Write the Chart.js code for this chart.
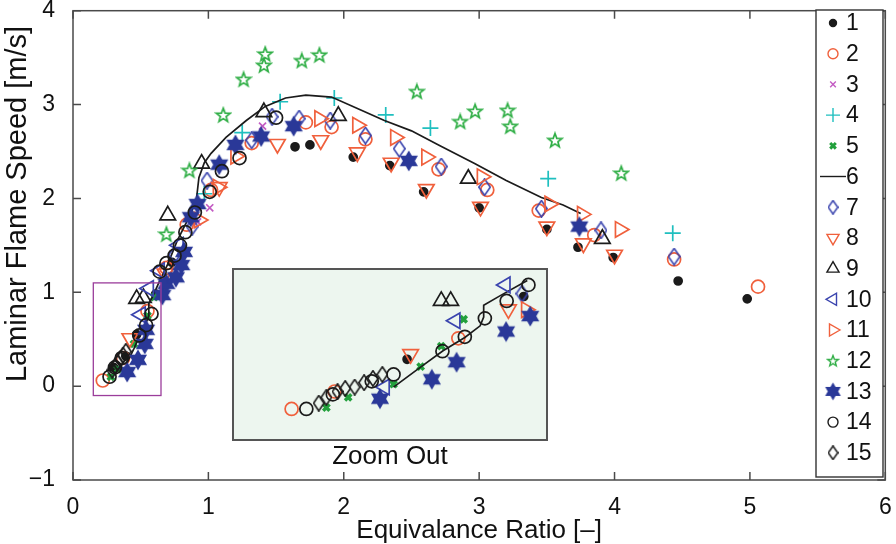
<!DOCTYPE html>
<html>
<head>
<meta charset="utf-8">
<script src="https://cdn.jsdelivr.net/npm/chart.js@4.4.1/dist/chart.umd.min.js"></script>
<style>
  html, body { margin: 0; padding: 0; background: #fff; }
  #wrap { position: relative; width: 896px; height: 544px; }
  #main { position: absolute; left: 0; top: 0; }
  #zoom { position: absolute; left: 232px; top: 268px; }
</style>
</head>
<body>
<div id="wrap">
  <canvas id="main" width="896" height="544"></canvas>
  <canvas id="zoom" width="316" height="173"></canvas>
</div>
<script>
// laminar flame speed vs equivalence ratio, one list of [phi, S_L] per source
const s1 = [[0.30,0.20],[0.39,0.32],[0.47,0.55],[0.61,0.98],[0.73,1.32],[1.64,2.55],[1.75,2.57],[2.07,2.44],[2.34,2.35],[2.59,2.07],[3.00,1.90],[3.50,1.67],[3.73,1.48],[3.99,1.37],[4.47,1.12],[4.98,0.93]];
const s2 = [[0.22,0.06],[0.37,0.30],[0.55,0.80],[0.69,1.26],[0.84,1.72],[1.02,2.09],[1.32,2.59],[1.72,2.81],[1.91,2.76],[2.16,2.63],[2.70,2.31],[3.06,2.09],[3.44,1.87],[3.85,1.61],[4.44,1.35],[5.06,1.06]];
const s3 = [[0.55,0.74],[0.92,1.75],[1.01,1.90],[1.40,2.77]];
const s4 = [[0.97,2.05],[1.25,2.70],[1.53,3.03],[1.93,3.07],[2.31,2.89],[2.64,2.75],[3.51,2.21],[4.43,1.63]];
const s5 = [[0.28,0.10],[0.33,0.18],[0.45,0.45],[0.55,0.75],[0.60,0.95]];
const s6 = [[0.40,0.25],[0.45,0.40],[0.49,0.53],[0.53,0.64],[0.56,0.75],[0.56,0.88],[0.59,0.96],[0.63,1.09],[0.70,1.30],[0.77,1.55],[0.85,1.78],[0.91,1.97],[0.93,2.22],[0.97,2.38],[1.02,2.48],[1.13,2.65],[1.28,2.83],[1.42,2.98],[1.57,3.07],[1.72,3.10],[1.91,3.08],[2.13,2.94],[2.30,2.83],[2.50,2.72],[2.70,2.57],[2.97,2.37],[3.20,2.19],[3.46,2.01],[3.62,1.93],[3.75,1.84]];
const s7 = [[0.75,1.40],[0.88,1.70],[0.99,2.19],[1.32,2.62],[1.47,2.87],[1.67,2.85],[1.90,2.83],[2.16,2.67],[2.41,2.53],[2.72,2.34],[3.04,2.12],[3.46,1.89],[3.90,1.66],[4.44,1.38]];
const s8 = [[0.42,0.51],[0.68,1.20],[1.08,2.12],[1.51,2.58],[1.83,2.62],[2.10,2.49],[2.35,2.38],[2.61,2.10],[3.01,1.91],[3.50,1.70],[3.77,1.52],[4.00,1.40]];
const s9 = [[0.47,0.93],[0.52,0.94],[0.70,1.82],[0.95,2.37],[1.41,2.92],[1.96,2.88],[2.92,2.21],[3.91,1.57]];
const s10 = [[0.50,0.76],[0.56,1.04],[0.64,1.23],[0.78,1.50]];
const s11 = [[0.93,1.77],[1.07,2.12],[1.20,2.45],[1.82,2.85],[2.10,2.78],[2.38,2.65],[2.61,2.44],[3.02,2.23],[3.52,1.94],[3.76,1.83],[4.04,1.67]];
const s12 = [[0.69,1.62],[0.86,2.30],[1.11,2.89],[1.26,3.27],[1.41,3.42],[1.42,3.54],[1.69,3.47],[1.82,3.53],[2.54,3.14],[2.86,2.82],[2.97,2.93],[3.21,2.94],[3.23,2.77],[3.56,2.62],[4.05,2.27]];
const s13 = [[0.40,0.15],[0.48,0.28],[0.53,0.45],[0.54,0.60],[0.66,0.97],[0.69,1.09],[0.76,1.16],[0.80,1.29],[0.82,1.43],[0.87,1.80],[0.92,1.94],[1.08,2.36],[1.20,2.57],[1.39,2.66],[1.63,2.77],[2.48,2.40],[3.74,1.70]];
const s14 = [[0.27,0.10],[0.31,0.20],[0.36,0.30],[0.49,0.54],[0.54,0.65],[0.58,0.77],[0.64,1.22],[0.69,1.31],[0.75,1.39],[0.79,1.50],[0.83,1.64],[0.90,1.85],[1.01,2.07],[1.10,2.29],[1.23,2.43],[1.50,2.86]];
const s15 = [[0.29,0.17],[0.31,0.21],[0.33,0.25],[0.35,0.29],[0.37,0.33],[0.39,0.37]];

// lean end, shown enlarged in the inset
const z1 = [[0.429,0.462],[0.627,0.959]];
const z2 = [[0.233,0.069],[0.306,0.207],[0.516,0.628]];
const z5 = [[0.292,0.080],[0.329,0.161],[0.406,0.265],[0.452,0.404],[0.487,0.566],[0.525,0.779]];
const z6 = [[0.406,0.242],[0.453,0.404],[0.490,0.530],[0.527,0.635],[0.553,0.727],[0.559,0.797],[0.559,0.890],[0.585,0.960],[0.633,1.086]];
const z7 = [[0.624,0.982]];
const z8 = [[0.435,0.503],[0.601,0.857]];
const z9 = [[0.487,0.924],[0.503,0.924]];
const z10 = [[0.391,0.242],[0.511,0.767],[0.596,1.051]];
const z11 = [[0.631,0.855]];
const z13 = [[0.383,0.150],[0.471,0.304],[0.513,0.439],[0.597,0.682],[0.638,0.804]];
const z14 = [[0.258,0.069],[0.303,0.184],[0.369,0.288],[0.406,0.342],[0.489,0.526],[0.527,0.640],[0.561,0.786],[0.598,0.924],[0.635,1.051]];
const z15 = [[0.279,0.115],[0.292,0.161],[0.311,0.207],[0.324,0.231],[0.340,0.242],[0.356,0.277],[0.371,0.311],[0.387,0.342]];

const seriesNames = ['1','2','3','4','5','6','7','8','9','10','11','12','13','14','15'];
const xTicks = [0, 1, 2, 3, 4, 5, 6];
const yTicks = [-1, 0, 1, 2, 3, 4];
const zoomBox = { x0: 0.15, x1: 0.65, y0: -0.1, y1: 1.1 };
const yTitle = 'Laminar Flame Speed [m/s]';

const FONT = "'Liberation Sans', Arial, sans-serif";
const ink = '#1b1b1b', red = '#f0603c', blue = '#3a44ae', navy = '#2a3898', green = '#2fae45';

function starCanvas(d, color, lw) {
  const c = document.createElement('canvas');
  c.width = c.height = d;
  const g = c.getContext('2d');
  const R = d / 2 - lw, r = R * 0.42, cx = d / 2, cy = d / 2 + R * 0.08;
  g.beginPath();
  for (let k = 0; k < 10; k++) {
    const a = -Math.PI / 2 + k * Math.PI / 5, rr = k % 2 ? r : R;
    g.lineTo(cx + rr * Math.cos(a), cy + rr * Math.sin(a));
  }
  g.closePath();
  g.strokeStyle = color; g.lineWidth = lw; g.stroke();
  return c;
}

function hexCanvas(d, color) {
  const c = document.createElement('canvas');
  c.width = c.height = d;
  const g = c.getContext('2d');
  const R = d / 2 - 0.5, r = R / Math.sqrt(3);
  g.beginPath();
  for (let k = 0; k < 12; k++) {
    const a = -Math.PI / 2 + k * Math.PI / 6, rr = k % 2 ? r : R;
    g.lineTo(d / 2 + rr * Math.cos(a), d / 2 + rr * Math.sin(a));
  }
  g.closePath();
  g.fillStyle = color; g.fill();
  return c;
}

function diamondCanvas(w, h, color, lw) {
  const c = document.createElement('canvas');
  c.width = w; c.height = h;
  const g = c.getContext('2d');
  g.beginPath();
  g.moveTo(w / 2, lw / 2); g.lineTo(w - lw / 2, h / 2);
  g.lineTo(w / 2, h - lw / 2); g.lineTo(lw / 2, h / 2);
  g.closePath();
  g.strokeStyle = color; g.lineWidth = lw; g.stroke();
  return c;
}

// marker per series: plot size and legend size
const marks = [
  { style: 'circle', r: 4, lr: 3.5, color: ink, fill: true },
  { style: 'circle', r: 6.5, lr: 5, color: red },
  { style: 'crossRot', r: 5, lr: 4, color: '#c35bc3' },
  { style: 'cross', r: 8, lr: 7, color: '#1fbfbf' },
  { style: 'crossRot', r: 4.5, lr: 4, color: '#22a03c', bw: 3.5 },
  { line: true, color: ink },
  { style: diamondCanvas(13, 18, blue, 1.6), legend: diamondCanvas(11, 15, blue, 1.5), color: blue },
  { style: 'triangle', rot: 180, r: 9, lr: 7, color: red },
  { style: 'triangle', r: 9, lr: 7, color: ink },
  { style: 'triangle', rot: -90, r: 9, lr: 7, color: blue },
  { style: 'triangle', rot: 90, r: 9, lr: 7, color: red },
  { style: starCanvas(18, green, 1.7), legend: starCanvas(14, green, 1.4), color: green },
  { style: hexCanvas(22, navy), legend: hexCanvas(19, navy), color: navy },
  { style: 'circle', r: 6.5, lr: 5, color: ink },
  { style: diamondCanvas(12, 17, ink, 1.6), legend: diamondCanvas(11, 15, ink, 1.5), color: ink }
];

const toPts = pairs => pairs.map(([x, y]) => ({ x, y }));

function makeSet(i, pairs) {
  const m = marks[i];
  const base = { label: seriesNames[i], data: toPts(pairs), order: 15 - i, clip: false };
  if (m.line) {
    return { ...base, showLine: true, borderColor: m.color, borderWidth: 1.7, pointRadius: 0, tension: 0 };
  }
  return {
    ...base,
    showLine: false,
    pointStyle: m.style,
    pointRotation: m.rot || 0,
    pointRadius: m.r || 5,
    pointBorderWidth: m.bw || 1.7,
    pointBorderColor: m.color,
    pointBackgroundColor: m.fill ? m.color : 'rgba(0,0,0,0)',
    pointHoverRadius: m.r || 5
  };
}

const mainSeries = [s1, s2, s3, s4, s5, s6, s7, s8, s9, s10, s11, s12, s13, s14, s15];
const zoomSeries = { 0: z1, 1: z2, 4: z5, 5: z6, 6: z7, 7: z8, 8: z9, 9: z10, 10: z11, 12: z13, 13: z14, 14: z15 };

// box with inward ticks, purple zoom frame, legend, y label and inset caption
const framePlugin = {
  id: 'frame',
  afterDraw(chart) {
    const { ctx, chartArea: a, scales: { x, y } } = chart;
    ctx.save();
    ctx.strokeStyle = '#4a4a4a';
    ctx.lineWidth = 1.5;
    ctx.strokeRect(a.left, a.top, a.right - a.left, a.bottom - a.top);
    ctx.beginPath();
    xTicks.forEach(v => {
      const px = x.getPixelForValue(v);
      ctx.moveTo(px, a.bottom); ctx.lineTo(px, a.bottom - 8);
      ctx.moveTo(px, a.top); ctx.lineTo(px, a.top + 8);
    });
    yTicks.forEach(v => {
      const py = y.getPixelForValue(v);
      ctx.moveTo(a.left, py); ctx.lineTo(a.left + 8, py);
      ctx.moveTo(a.right, py); ctx.lineTo(a.right - 8, py);
    });
    ctx.stroke();

    // region shown in the inset
    ctx.strokeStyle = '#9b3d9b';
    ctx.lineWidth = 1.3;
    const bx0 = x.getPixelForValue(zoomBox.x0), bx1 = x.getPixelForValue(zoomBox.x1);
    const by0 = y.getPixelForValue(zoomBox.y0), by1 = y.getPixelForValue(zoomBox.y1);
    ctx.strokeRect(bx0, by1, bx1 - bx0, by0 - by1);

    ctx.fillStyle = '#111';
    ctx.textAlign = 'center';
    ctx.textBaseline = 'middle';

    // y axis label, sitting a little above the middle of the axis
    ctx.save();
    ctx.translate(18, 204);
    ctx.rotate(-Math.PI / 2);
    ctx.font = '29px ' + FONT;
    ctx.fillText(yTitle, 0, 0);
    ctx.restore();

    // caption under the inset
    ctx.font = '26px ' + FONT;
    ctx.fillText('Zoom Out', 390, 457);

    // legend
    const lx = 816, ly = 10, lw = 67, lh = 467;
    ctx.fillStyle = '#fff';
    ctx.fillRect(lx, ly, lw, lh);
    ctx.strokeStyle = '#333';
    ctx.lineWidth = 1.4;
    ctx.strokeRect(lx, ly, lw, lh);
    ctx.font = '23px ' + FONT;
    ctx.textAlign = 'left';
    seriesNames.forEach((name, i) => {
      const cy = 23 + i * 30.7, cx = 833;
      const m = marks[i];
      ctx.strokeStyle = m.color;
      ctx.fillStyle = m.fill ? m.color : 'rgba(0,0,0,0)';
      ctx.lineWidth = m.bw ? 3 : 1.4;
      if (m.line) {
        ctx.beginPath(); ctx.moveTo(820, cy); ctx.lineTo(846, cy); ctx.stroke();
      } else {
        Chart.helpers.drawPoint(ctx, {
          pointStyle: m.legend || m.style, rotation: m.rot || 0,
          radius: m.lr || 5, borderWidth: ctx.lineWidth
        }, cx, cy);
      }
      ctx.fillStyle = '#111';
      ctx.fillText(name, 846, cy + 1);
    });
    ctx.restore();
  }
};

new Chart(document.getElementById('main'), {
  type: 'scatter',
  data: { datasets: mainSeries.map((d, i) => makeSet(i, d)) },
  options: {
    responsive: false,
    animation: false,
    layout: { padding: { top: 10, right: 8, left: 0, bottom: 0 } },
    plugins: { legend: { display: false }, tooltip: { enabled: false } },
    scales: {
      x: {
        type: 'linear', min: 0, max: 6,
        grid: { display: false }, border: { display: false },
        afterBuildTicks: s => { s.ticks = xTicks.map(v => ({ value: v })); },
        afterFit: s => { s.height = 64; s.paddingLeft = 0; s.paddingRight = 0; },
        ticks: { color: '#111', padding: 6, font: { family: FONT, size: 23 } },
        title: { display: true, text: 'Equivalance Ratio [–]', color: '#111', padding: { top: 0, bottom: -2 }, font: { family: FONT, size: 26 } }
      },
      y: {
        type: 'linear', min: -1, max: 4,
        grid: { display: false }, border: { display: false },
        afterBuildTicks: s => { s.ticks = yTicks.map(v => ({ value: v })); },
        afterFit: s => { s.width = 73; s.paddingTop = 0; s.paddingBottom = 0; },
        ticks: { color: '#111', padding: 10, font: { family: FONT, size: 23 },
          callback: v => v < 0 ? '\u2212' + Math.abs(v) : String(v) }
      }
    }
  },
  plugins: [framePlugin]
});

// inset panel: pale green fill and grey border
const insetPlugin = {
  id: 'insetFrame',
  beforeDraw(chart) {
    const { ctx, width, height } = chart;
    ctx.save();
    ctx.fillStyle = '#edf6ef';
    ctx.fillRect(0, 0, width, height);
    ctx.restore();
  },
  afterDraw(chart) {
    const { ctx, width, height } = chart;
    ctx.save();
    ctx.strokeStyle = '#555';
    ctx.lineWidth = 2;
    ctx.strokeRect(1, 1, width - 2, height - 2);
    ctx.restore();
  }
};

new Chart(document.getElementById('zoom'), {
  type: 'scatter',
  data: { datasets: Object.keys(zoomSeries).map(k => makeSet(+k, zoomSeries[k])) },
  options: {
    responsive: false,
    animation: false,
    layout: { padding: 0 },
    plugins: { legend: { display: false }, tooltip: { enabled: false } },
    scales: {
      x: { type: 'linear', display: false, min: zoomBox.x0, max: zoomBox.x1 },
      y: { type: 'linear', display: false, min: zoomBox.y0, max: zoomBox.y1 }
    }
  },
  plugins: [insetPlugin]
});
</script>
</body>
</html>
